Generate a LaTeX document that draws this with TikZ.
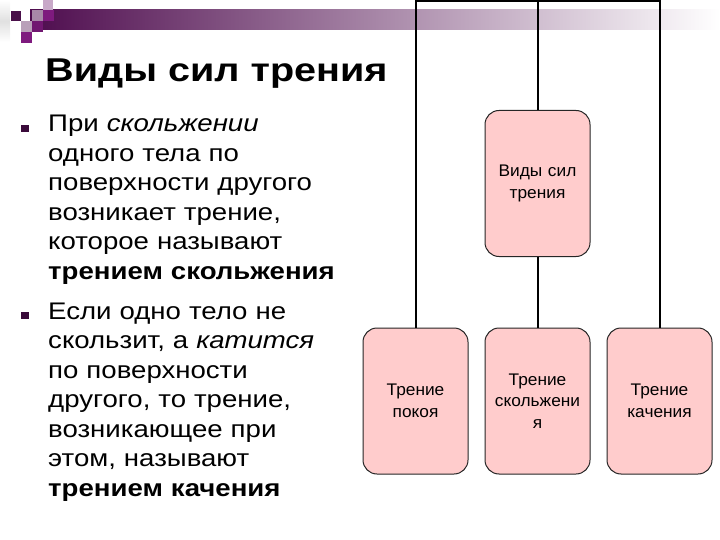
\documentclass[tikz,border=0pt]{standalone}
\usepackage{fontspec}
\setmainfont{Liberation Sans}
\newfontfamily\bodyf{Liberation Sans}[FakeStretch=1.15]
\newfontfamily\titlef{Liberation Sans}[FakeStretch=1.2]
\newfontfamily\boxf{Liberation Sans}[FakeStretch=1.03]
\definecolor{boxpink}{HTML}{FFCCCC}
\definecolor{bulletc}{HTML}{3A0A3A}
\definecolor{barleft}{HTML}{4E0C4E}
\definecolor{sqdark}{HTML}{4A104A}
\definecolor{sqmag}{HTML}{7E1A7E}
\definecolor{sqgray}{HTML}{A888A8}
\definecolor{sqlight}{HTML}{C8A8C8}
\begin{document}
\begin{tikzpicture}[x=1pt,y=-1pt,
  box/.style={draw=black!85, line width=1pt, fill=boxpink, rounded corners=14pt,
    minimum width=105pt, minimum height=146pt, text width=100pt, align=center,
    font=\boxf\fontsize{16.8}{21.5}\selectfont, inner sep=0pt},
  conn/.style={draw=black, line width=2pt},
  body/.style={anchor=base west, inner sep=0pt, text width=330pt, align=left,
    font=\bodyf\fontsize{24}{29.5}\selectfont}]
\useasboundingbox (0,0) rectangle (720,540);
% decorative header
\shade[left color=barleft, right color=white] (30,10) rectangle (720,30);
\shade[top color=white, bottom color=white, middle color=black!12] (0,0) rectangle (10,42);
\fill[sqlight] (43,0) rectangle (53,10);
\fill[sqdark] (11,11) rectangle (21,21);
\fill[sqgray] (32,10) rectangle (43,21);
\fill[sqmag] (43,10) rectangle (54,21);
\fill[sqgray!80] (21,21) rectangle (32,32);
\fill[sqmag!90!black] (32,21) rectangle (43,32);
\fill[sqmag] (21,32) rectangle (32,43);
% title
\node[anchor=base west, inner sep=0pt, font=\titlef\fontsize{33}{38}\selectfont\bfseries] (title) at (45,82) {Виды сил трения};
% bullets
\fill[bulletc] (21,125) rectangle (29,132);
\fill[bulletc] (21,312) rectangle (29,319);
\node[body] (b1) at (48,132) {При \textit{скольжении}\\ одного тела по\\ поверхности другого\\ возникает трение,\\ которое называют\\ \textbf{трением скольжения}};
\node[body] (b2) at (48,319) {Если одно тело не\\ скользит, а \textit{катится}\\ по поверхности\\ другого, то трение,\\ возникающее при\\ этом, называют\\ \textbf{трением качения}};
% diagram
\coordinate (topy) at (0,1.5);
\node[box] (p) at (537.5,183.5) {Виды сил\\ трения};
\node[box] (c1) at (415.5,401) {Трение\\ покоя};
\node[box] (c2) at (537.5,401) {Трение\\ скольжени\\ я};
\node[box] (c3) at (659.5,401) {Трение\\ качения};
\draw[conn] (c1.north) -- (c1.north |- topy) -- (c3.north |- topy) -- (c3.north);
\draw[conn] (p.north) -- (p.north |- topy);
\draw[conn] (p.south) -- (c2.north);
\end{tikzpicture}
\end{document}
